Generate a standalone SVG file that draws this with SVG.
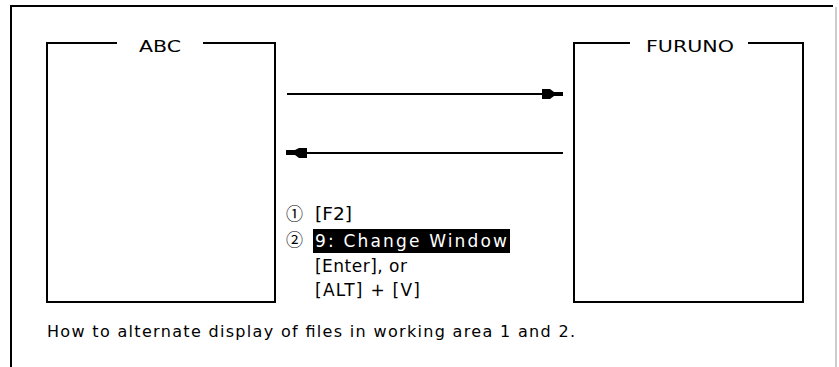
<svg xmlns="http://www.w3.org/2000/svg" width="839" height="367" viewBox="0 0 839 367">
<style>
.ln{fill:none;stroke:#000;stroke-width:2}
.t{font-family:"DejaVu Sans","Liberation Sans",Arial,sans-serif;font-size:16px;fill:#000}
.s{font-size:17px}
.c{font-family:"Noto Sans CJK JP","DejaVu Sans",sans-serif;font-size:17px}
.w{fill:#fff}
.ah{fill:#000;stroke:none}
</style>
<rect x="0" y="0" width="839" height="367" fill="#fff"/>
<g id="frame">
<path class="ln" d="M11,367 V6 H833"/>
<line x1="836" y1="7" x2="836" y2="367" stroke="#999" stroke-width="1"/>
</g>
<g id="abc">
<path class="ln" d="M117,43 H47 V302 H275 V43 H203"/>
<text class="t" x="160" y="52" text-anchor="middle" textLength="42" lengthAdjust="spacingAndGlyphs">ABC</text>
</g>
<g id="furuno">
<path class="ln" d="M630,43 H574 V302 H803 V43 H748"/>
<text class="t" x="690" y="52" text-anchor="middle" textLength="88" lengthAdjust="spacingAndGlyphs">FURUNO</text>
</g>
<g id="connectors">
<line class="ln" x1="287" y1="94" x2="556" y2="94"/>
<path class="ah" d="M542,89 H550 L554,92 H563 V96 H554 L550,99 H542 Z"/>
<line class="ln" x1="294" y1="153" x2="563" y2="153"/>
<path class="ah" d="M307,148 H299 L295,150 H286 V155 H295 L299,158 H307 Z"/>
</g>
<g id="steps">
<text class="t c" x="286" y="220">①</text>
<text class="t s" x="315" y="220" textLength="37" lengthAdjust="spacingAndGlyphs">[F2]</text>
<text class="t c" x="286" y="246">②</text>
<rect x="313" y="229" width="197" height="24" fill="#000"/>
<text class="t s w" x="315" y="247" textLength="192" lengthAdjust="spacing">9: Change Window</text>
<text class="t s" x="315" y="272" textLength="92" lengthAdjust="spacing">[Enter], or</text>
<text class="t s" x="315" y="296" textLength="105" lengthAdjust="spacing">[ALT] + [V]</text>
</g>
<g id="caption">
<text class="t" x="47" y="337" textLength="528" lengthAdjust="spacing">How to alternate display of files in working area 1 and 2.</text>
</g>
</svg>
